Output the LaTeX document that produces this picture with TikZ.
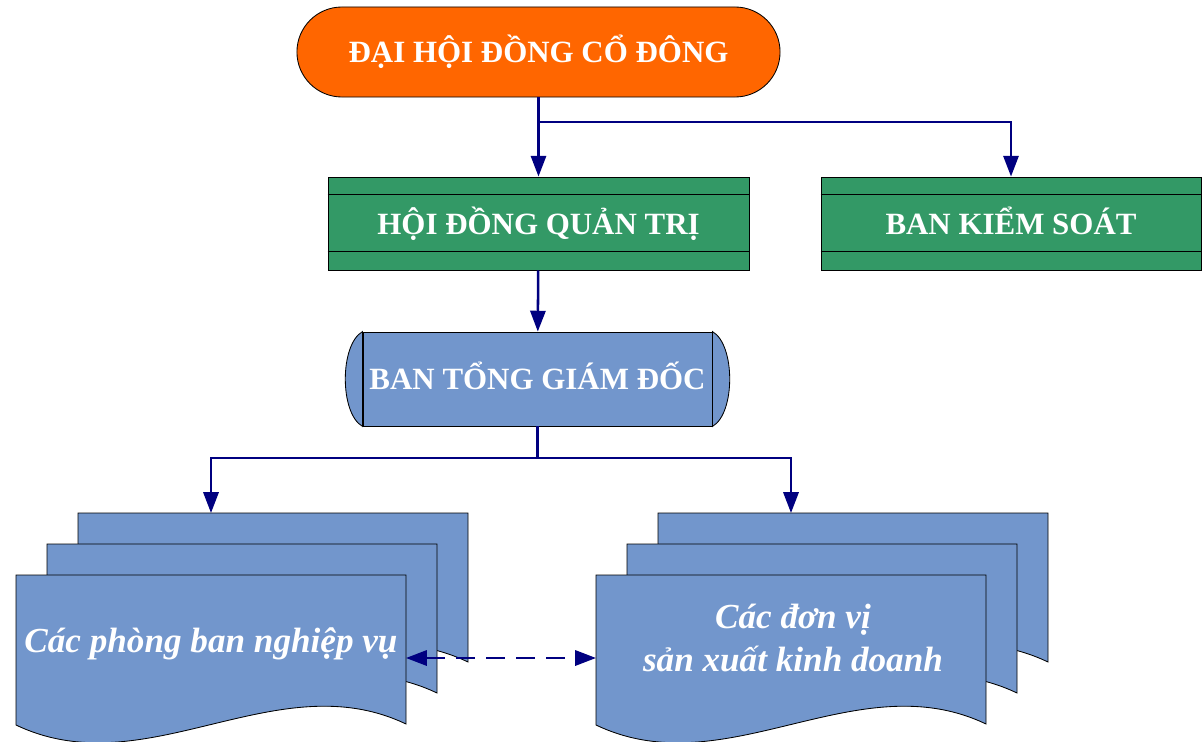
\documentclass[tikz,border=0pt]{standalone}
\usepackage{fontspec}
\setmainfont{Liberation Serif}
\usepackage{tikz}
\usetikzlibrary{positioning,arrows.meta}
\definecolor{orangebox}{RGB}{255,102,0}
\definecolor{greenbox}{RGB}{51,153,102}
\definecolor{bluebox}{RGB}{114,150,204}
\definecolor{darknavy}{RGB}{0,0,128}
% one sheet of a stacked document, top left corner at (#1,#2)
\newcommand{\docsheet}[2]{%
  \begin{scope}[shift={(#1,#2)}]
  \filldraw[sheet] (0,0) -- (390,0) -- (390,149) .. controls (260,87) and (130,212) .. (0,150) -- cycle;
  \end{scope}}

\begin{document}
\begin{tikzpicture}[x=0.025cm,y=-0.025cm]
\tikzstyle{title}=[rectangle, draw=black, line width=0.6pt, fill=orangebox, text=white, minimum width=12.075cm, minimum height=2.25cm, rounded corners=1.125cm, text height=21pt, text depth=5.5pt, font=\fontsize{22}{26}\selectfont\bfseries]
\tikzstyle{board}=[rectangle, draw=black, line width=0.6pt, fill=greenbox, text=white, minimum height=2.325cm, text height=21pt, text depth=5.5pt, font=\fontsize{22}{26}\selectfont\bfseries]
\tikzstyle{exec}=[rectangle, draw=black, line width=0.6pt, fill=bluebox, text=white, minimum width=8.725cm, minimum height=2.35cm, text height=21pt, text depth=5.5pt, font=\fontsize{22}{26}\selectfont\bfseries]
\tikzstyle{sheet}=[draw=black, line width=0.6pt, fill=bluebox]
\tikzstyle{doctext}=[text=white, align=center, font=\fontsize{25}{30.5}\selectfont\bfseries\itshape]
\tikzstyle{line}=[line width=1.8pt, draw=darknavy]
\tikzstyle{connect}=[-{Triangle[length=0.52cm,width=0.38cm]}, line width=1.8pt, draw=darknavy]
\tikzstyle{dashconnect}=[{Triangle[length=0.52cm,width=0.38cm]}-{Triangle[length=0.52cm,width=0.38cm]}, line width=1.8pt, draw=darknavy, dash pattern=on 0.47cm off 0.28cm]
\useasboundingbox (0,0) rectangle (1204,742);

	\node[title] (dhdcd) at (538.5,52) {ĐẠI HỘI ĐỒNG CỔ ĐÔNG};
	\node[board, minimum width=10.525cm] (hdqt) at (538.5,223.5) {HỘI ĐỒNG QUẢN TRỊ};
	\node[board, minimum width=9.5cm] (bks) at (1011,223.5) {BAN KIỂM SOÁT};
	\node[exec] (btgd) at (537.5,379) {BAN TỔNG GIÁM ĐỐC};

	% stripes of the two boards
	\draw[line width=0.6pt] ([yshift=-0.45cm]hdqt.north west) -- ([yshift=-0.45cm]hdqt.north east);
	\draw[line width=0.6pt] ([yshift=0.475cm]hdqt.south west) -- ([yshift=0.475cm]hdqt.south east);
	\draw[line width=0.6pt] ([yshift=-0.45cm]bks.north west) -- ([yshift=-0.45cm]bks.north east);
	\draw[line width=0.6pt] ([yshift=0.475cm]bks.south west) -- ([yshift=0.475cm]bks.south east);

	% rounded caps of the executive board
	\filldraw[sheet] (btgd.north east) .. controls +(23,13) and +(23,-13) .. (btgd.south east) -- cycle;
	\filldraw[sheet] (btgd.north west) .. controls +(-23,13) and +(-23,-13) .. (btgd.south west) -- cycle;

	% stacked documents
	\docsheet{78}{513}
	\docsheet{47}{544}
	\docsheet{16}{575}
	\docsheet{658}{513}
	\docsheet{627}{544}
	\docsheet{596}{575}
	\node[doctext] (pbnv) at (211,644) {Các phòng ban nghiệp vụ};
	\node[doctext] (dvsx) at (793,638) {Các đơn vị\\sản xuất kinh doanh};

	\coordinate (split_top) at (538.5,122);
	\coordinate (split_low) at (537.5,458);
	\coordinate (pb_top) at (211,513);
	\coordinate (dv_top) at (791,513);
	\coordinate (pb_side) at (406,658);
	\coordinate (dv_side) at (596,658);

	\draw[connect] (dhdcd) -- (hdqt);
	\draw[connect] (split_top) -| (bks);
	\draw[connect] (hdqt) -- (btgd);
	\draw[line] (btgd) -- (split_low);
	\draw[connect] (split_low) -| (pb_top);
	\draw[connect] (split_low) -| (dv_top);
	\draw[dashconnect] (pb_side) -- (dv_side);
\end{tikzpicture}
\end{document}
